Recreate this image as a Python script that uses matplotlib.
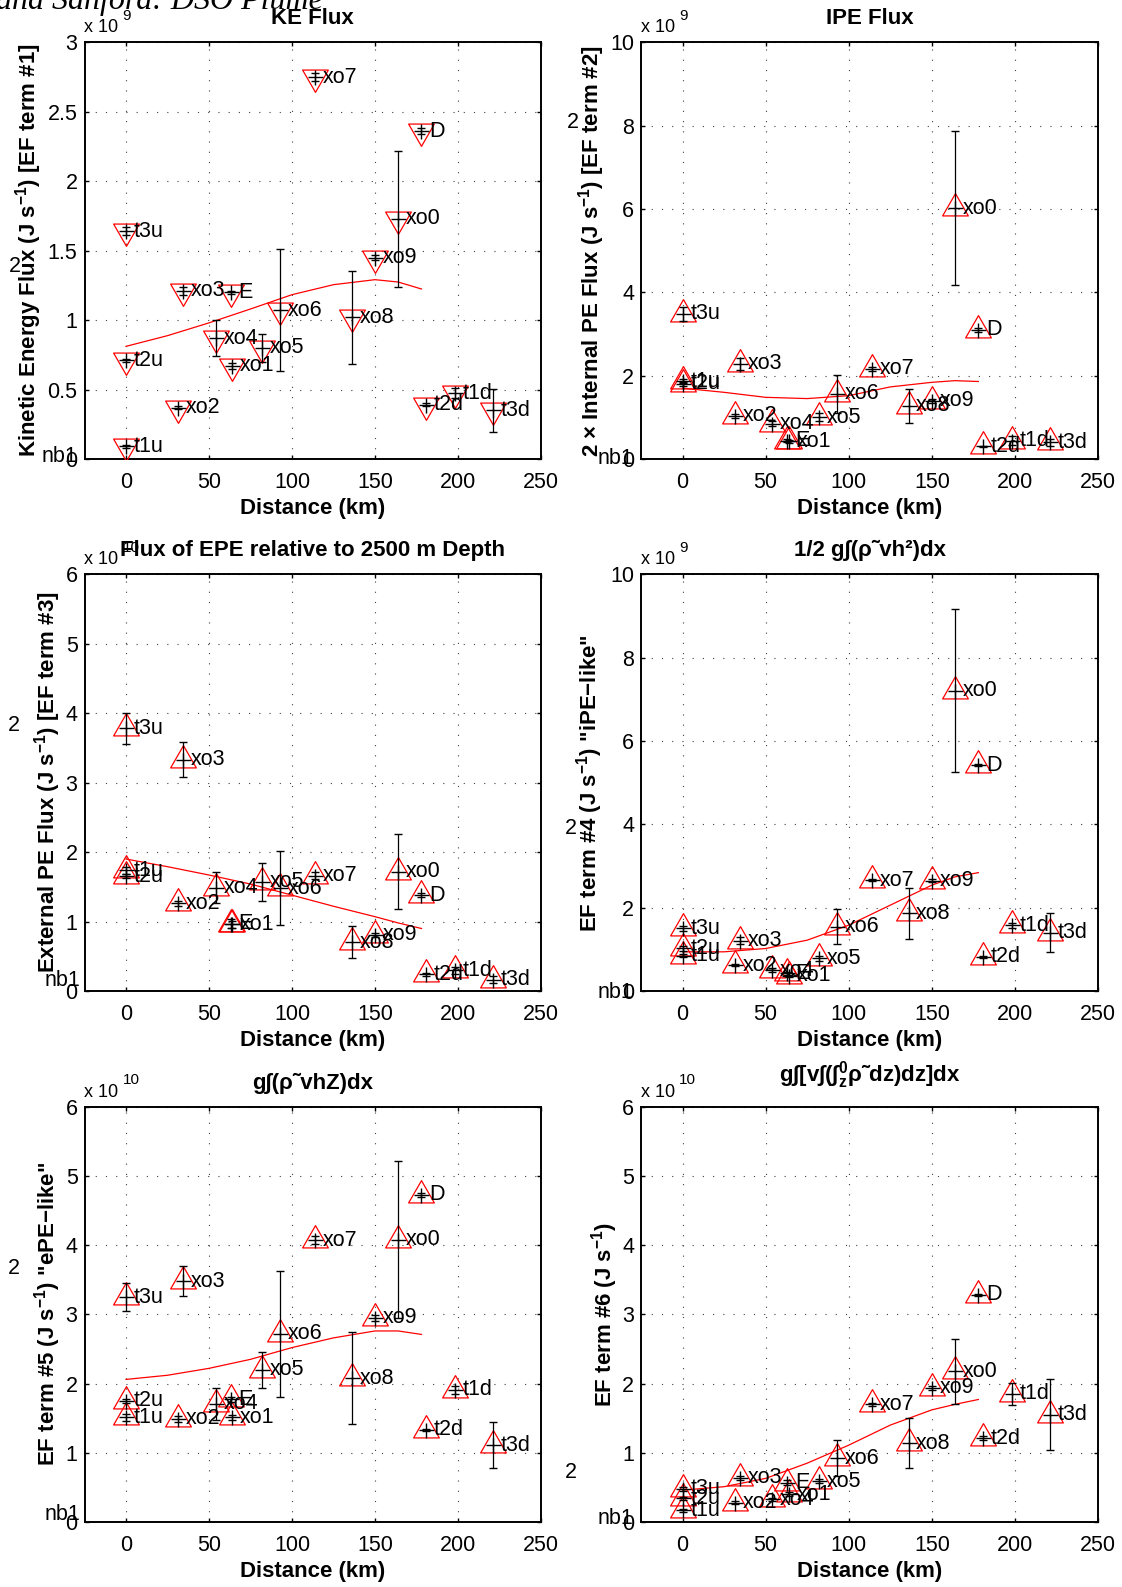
import matplotlib
matplotlib.use('Agg')
import matplotlib.pyplot as plt
from matplotlib.path import Path

plt.rcParams['font.family'] = ['Liberation Sans', 'DejaVu Sans']
plt.rcParams['mathtext.fontset'] = 'custom'
plt.rcParams['mathtext.rm'] = 'Liberation Sans'
plt.rcParams['mathtext.it'] = 'Liberation Sans:italic'
plt.rcParams['mathtext.bf'] = 'Liberation Sans:bold'

# ---------------- data ----------------
stations = ['t1u', 't2u', 't3u', 'xo2', 'xo3', 'xo4', 'E', 'xo1', 'xo5', 'xo6',
            'xo7', 'xo8', 'xo9', 'xo0', 'D', 't1d', 't2d', 't3d']
distance_km = [0, 0, 0, 31.5, 34.5, 54, 63, 64, 82, 93,
               114, 136, 150, 164, 178, 198, 180.5, 221]

# values in units of the axis multiplier
ke_flux = [0.09, 0.71, 1.64, 0.37, 1.21, 0.87, 1.20, 0.67, 0.80, 1.07,
           2.75, 1.02, 1.45, 1.73, 2.36, 0.475, 0.39, 0.35]
ke_err = [0.01, 0.01, 0.03, 0.01, 0.03, 0.13, 0.01, 0.02, 0.10, 0.44,
          0.03, 0.335, 0.02, 0.49, 0.02, 0.035, 0.01, 0.155]

ipe_flux = [1.87, 1.80, 3.48, 1.04, 2.28, 0.84, 0.44, 0.42, 1.00, 1.56,
            2.16, 1.28, 1.40, 6.02, 3.10, 0.44, 0.30, 0.40]
ipe_err = [0.05, 0.05, 0.16, 0.05, 0.15, 0.06, 0.03, 0.03, 0.10, 0.45,
           0.05, 0.41, 0.05, 1.85, 0.05, 0.10, 0.02, 0.08]

epe_flux = [1.74, 1.65, 3.78, 1.26, 3.33, 1.49, 0.97, 0.96, 1.57, 1.48,
            1.66, 0.70, 0.81, 1.72, 1.38, 0.30, 0.24, 0.16]
epe_err = [0.05, 0.03, 0.22, 0.04, 0.25, 0.23, 0.06, 0.05, 0.27, 0.535,
           0.05, 0.23, 0.03, 0.535, 0.03, 0.05, 0.02, 0.05]

term4 = [0.85, 1.02, 1.50, 0.62, 1.21, 0.50, 0.42, 0.36, 0.78, 1.54,
         2.66, 1.86, 2.65, 7.21, 5.42, 1.58, 0.82, 1.40]
term4_err = [0.04, 0.05, 0.06, 0.03, 0.08, 0.04, 0.03, 0.03, 0.07, 0.42,
             0.03, 0.61, 0.03, 1.96, 0.03, 0.06, 0.02, 0.47]

term5 = [1.51, 1.75, 3.25, 1.49, 3.48, 1.71, 1.77, 1.51, 2.20, 2.72,
         4.07, 2.08, 2.95, 4.08, 4.73, 1.91, 1.33, 1.11]
term5_err = [0.05, 0.03, 0.20, 0.04, 0.22, 0.23, 0.04, 0.04, 0.26, 0.91,
             0.06, 0.67, 0.04, 1.13, 0.03, 0.06, 0.02, 0.33]

term6 = [0.17, 0.34, 0.48, 0.28, 0.64, 0.33, 0.57, 0.40, 0.59, 0.92,
         1.70, 1.14, 1.94, 2.18, 3.28, 1.85, 1.21, 1.55]
term6_err = [0.02, 0.02, 0.03, 0.02, 0.03, 0.02, 0.03, 0.03, 0.03, 0.26,
             0.02, 0.36, 0.03, 0.47, 0.02, 0.16, 0.03, 0.51]

fit_km = [0, 25, 50, 75, 100, 125, 150, 164, 178]
ke_fit = [0.811, 0.888, 0.98, 1.08, 1.183, 1.255, 1.291, 1.274, 1.224]
ipe_fit = [1.70, 1.60, 1.48, 1.45, 1.52, 1.73, 1.84, 1.88, 1.86]
epe_fit = [1.90, 1.79, 1.67, 1.54, 1.38, 1.22, 1.07, 0.98, 0.90]
term4_fit = [0.94, 0.94, 1.02, 1.22, 1.58, 2.06, 2.54, 2.74, 2.84]
term5_fit = [2.06, 2.12, 2.22, 2.35, 2.52, 2.66, 2.76, 2.76, 2.71]
term6_fit = [0.46, 0.51, 0.63, 0.85, 1.11, 1.40, 1.62, 1.70, 1.77]

titles = ['KE Flux', 'IPE Flux', 'Flux of EPE relative to 2500 m Depth',
          '1/2 g\u222b(\u03c1\u02dcvh\u00b2)dx', 'g\u222b(\u03c1\u02dcvhZ)dx',
          'g\u222b[v\u222b(\u222b$_{\\mathbf{z}}^{\\mathbf{0}}$\u03c1\u02dcdz)dz]dx']
ylabels = [r'Kinetic Energy Flux (J s$^{\mathbf{-1}}$) [EF term #1]',
           '2 \u00d7 Internal PE Flux (J s$^{\\mathbf{-1}}$) [EF term #2]',
           r'External PE Flux (J s$^{\mathbf{-1}}$) [EF term #3]',
           'EF term #4 (J s$^{\\mathbf{-1}}$) "iPE\u2212like"',
           'EF term #5 (J s$^{\\mathbf{-1}}$) "ePE\u2212like"',
           r'EF term #6 (J s$^{\mathbf{-1}}$)']
exponents = ['9', '9', '10', '9', '10', '10']
y_max = [3, 10, 6, 10, 6, 6]
y_step = [0.5, 2, 1, 2, 1, 1]
x_ticks = [0, 50, 100, 150, 200, 250]

values = [ke_flux, ipe_flux, epe_flux, term4, term5, term6]
errors = [ke_err, ipe_err, epe_err, term4_err, term5_err, term6_err]
fits = [ke_fit, ipe_fit, epe_fit, term4_fit, term5_fit, term6_fit]

# ---------------- layout (pixels) ----------------
W, H = 1122, 1587
DPI = 100
col_left = [84.5, 641]
col_width = [456.5, 457]
row_top = [42.3, 574.3, 1106.7]
row_bot = [459, 991, 1522]
ylabel_px = [29, 592, 48, 590, 48, 605]
title_pad = [13, 13, 13, 13, 13, 18.5]
stray2_px = [(14.6, 266), (572.5, 122), (14, 725), (571, 828), (14, 1268), (571, 1473)]
nb1_px = [(77, 457), (633, 458), (80, 980), (633, 992), (80, 1514), (633, 1519)]

s3 = 3 ** 0.5
tri_down = Path([(-1, 1 / s3), (1, 1 / s3), (0, -2 / s3), (-1, 1 / s3)],
                [Path.MOVETO, Path.LINETO, Path.LINETO, Path.CLOSEPOLY])
tri_up = Path([(-1, -1 / s3), (1, -1 / s3), (0, 2 / s3), (-1, -1 / s3)],
              [Path.MOVETO, Path.LINETO, Path.LINETO, Path.CLOSEPOLY])

fig = plt.figure(figsize=(W / DPI, H / DPI), dpi=DPI)
fig.patch.set_facecolor('white')

for i in range(6):
    r, c = divmod(i, 2)
    left = col_left[c]
    wpx = col_width[c]
    top = row_top[r]
    bot = row_bot[r]
    hpx = bot - top
    ax = fig.add_axes([left / W, 1 - bot / H, wpx / W, hpx / H])

    ax.set_xlim(-25, 250)
    ax.set_ylim(0, y_max[i])
    yt = []
    v = 0.0
    while v <= y_max[i] + 1e-9:
        yt.append(round(v, 6))
        v += y_step[i]
    ax.set_xticks(x_ticks)
    ax.set_xticklabels([f'{t:g}' for t in x_ticks])
    ax.set_yticks(yt)
    ax.set_yticklabels([f'{t:g}' for t in yt])

    ax.grid(True, color='0.25', linewidth=0.8, linestyle=(0, (1, 8.2)))
    ax.set_axisbelow(True)
    for sp in ax.spines.values():
        sp.set_linewidth(1.4)
    ax.tick_params(direction='in', top=True, right=True, length=3.2, width=1,
                   labelsize=15.5)
    ax.tick_params(axis='x', pad=9.5)
    ax.tick_params(axis='y', pad=5)

    marker = tri_down if i == 0 else tri_up
    ax.plot(distance_km, values[i], linestyle='none', marker=marker, ms=21.4,
            mfc='none', mec='red', mew=0.9, zorder=3)
    ax.errorbar(distance_km, values[i], yerr=errors[i], fmt='+', color='black',
                ms=10.8, mew=1.0, elinewidth=0.9, capsize=2.8, capthick=0.9,
                zorder=4)
    ax.plot(fit_km, fits[i], color='red', lw=0.9, zorder=3)

    for name, xk, yv in zip(stations, distance_km, values[i]):
        ax.annotate(name, (xk, yv), xytext=(5.5, 0), textcoords='offset points',
                    ha='left', va='center', fontsize=15.5, zorder=5)

    ax.set_title(titles[i], fontsize=16, fontweight='bold', pad=title_pad[i])
    ax.set_xlabel('Distance (km)', fontsize=16, fontweight='bold', labelpad=3.5)
    ax.set_ylabel(ylabels[i], fontsize=16, fontweight='bold')
    ax.yaxis.set_label_coords((ylabel_px[i] - left) / wpx, 0.5)
    ax.yaxis.label.set_verticalalignment('center')

    # MATLAB-style axis multiplier
    fig.text(left / W, 1 - (top - 10.0) / H, 'x 10', ha='left', va='baseline',
             fontsize=13)
    fig.text((left + 38) / W, 1 - (top - 22.5) / H, exponents[i], ha='left',
             va='baseline', fontsize=11)

    sx, sy = stray2_px[i]
    fig.text(sx / W, 1 - sy / H, '2', ha='center', va='center', fontsize=15.5)
    nx, ny = nb1_px[i]
    fig.text(nx / W, 1 - ny / H, 'nb1', ha='right', va='center', fontsize=15.5)

fig.text(-4 / W, 1 - 9.5 / H, 'and Sanford: DSO Plume', ha='left', va='baseline',
         fontsize=23, family='Liberation Serif', style='italic')

fig.savefig('out.png', dpi=DPI, facecolor='white')
